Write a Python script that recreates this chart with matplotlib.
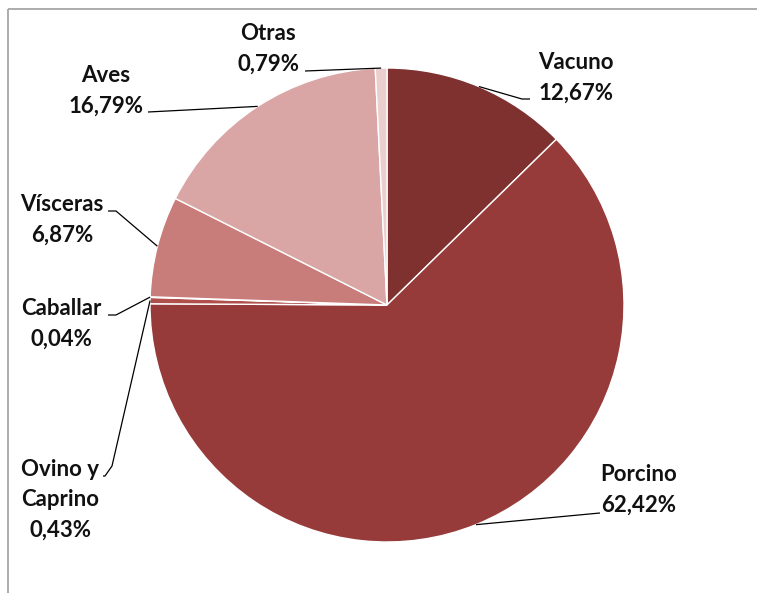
import numpy as np
import matplotlib
matplotlib.use("Agg")
import matplotlib.pyplot as plt
from matplotlib.patches import Rectangle

categories = ["Vacuno", "Porcino", "Ovino y\nCaprino", "Caballar", "Vísceras", "Aves", "Otras"]
values = [12.67, 62.42, 0.43, 0.04, 6.87, 16.79, 0.79]
colors = ["#7e312f", "#963b39", "#b0504d", "#c26966", "#c97d7a", "#d9a6a5", "#ebcfce"]

plt.rcParams['font.family'] = ['Lato', 'DejaVu Sans']

W, H = 757, 593
fig = plt.figure(figsize=(W / 100, H / 100), dpi=100)
ax = fig.add_axes([0, 0, 1, 1])

cx, cy, R = 387, 305, 237
wedges, _ = ax.pie(values, colors=colors, startangle=-90, counterclock=True,
                   center=(cx, cy), radius=R,
                   wedgeprops=dict(edgecolor="white", linewidth=1.0))

ax.set_xlim(0, W)
ax.set_ylim(H, 0)
ax.set_aspect('equal')
ax.axis('off')

# chart-area frame (top and left edges visible)
ax.add_patch(Rectangle((8, 9), 800, 700, fill=False, edgecolor="#a6a6a6", linewidth=1.3))

# anchor points on rim at mid-angle of each wedge
total = sum(values)
cum = np.cumsum([0] + values[:-1])
anchors = []
for c, v in zip(cum, values):
    frac = (c + v / 2) / total
    ang = 2 * np.pi * frac
    anchors.append((cx + R * np.sin(ang), cy - R * np.cos(ang)))

# label layout: text center, leader path (elbow points after rim anchor)
layout = {
    "Vacuno": ((576, 78), [(522, 99), (530, 99)]),
    "Porcino": ((639, 490), [(600, 513)]),
    "Ovino y\nCaprino": ((60, 500), [(112, 466), (105, 476), (103, 476)]),
    "Caballar": ((61, 324), [(116, 315), (108, 315)]),
    "Vísceras": ((62, 220), [(116, 211), (108, 211)]),
    "Aves": ((106, 91), [(148, 112)]),
    "Otras": ((268, 49), [(305, 71)]),
}

for cat, v, (ax0, ay0) in zip(categories, values, anchors):
    (tx, ty), path = layout[cat]
    pts = [(ax0, ay0)] + path
    xs, ys = zip(*pts)
    ax.plot(xs, ys, color="black", linewidth=0.9, solid_capstyle='butt')
    label = f"{cat}\n{v:.2f}%".replace('.', ',')
    ax.text(tx, ty, label, ha='center', va='center', fontsize=16,
            fontweight='bold', color="#111111", linespacing=1.55)

fig.savefig("out.png", dpi=100, facecolor="white")
